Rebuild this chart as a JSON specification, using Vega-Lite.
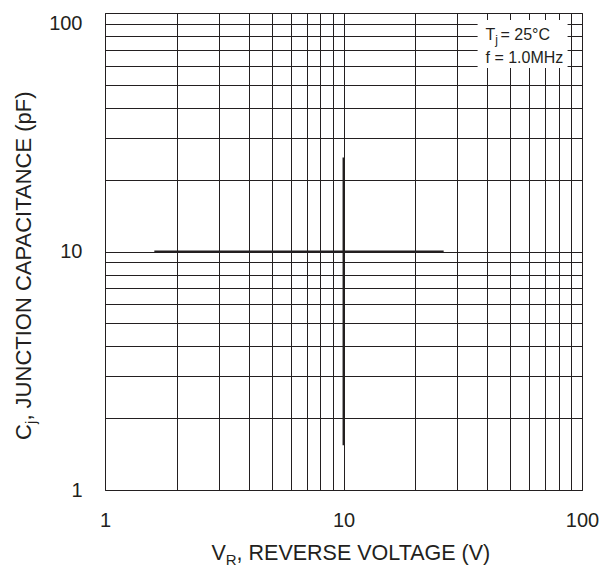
{
  "$schema": "https://vega.github.io/schema/vega-lite/v6.json",
  "width": 477,
  "height": 477,
  "autosize": {"type": "none"},
  "padding": {"left": 105, "top": 13, "right": 27, "bottom": 79},
  "background": "white",
  "config": {
    "font": "Liberation Sans",
    "view": {"stroke": "#231f20", "strokeWidth": 1},
    "text": {"font": "Liberation Sans", "color": "#231f20"}
  },
  "datasets": {
    "curves": [
      {"series": "h", "vr": 1.61, "cj": 10},
      {"series": "h", "vr": 26.3, "cj": 10},
      {"series": "v", "vr": 10, "cj": 1.54},
      {"series": "v", "vr": 10, "cj": 24.8}
    ]
  },
  "layer": [
    {
      "data": {"name": "curves"},
      "mark": {"type": "line", "color": "#231f20", "strokeWidth": 1.9},
      "encoding": {
        "x": {
          "field": "vr", "type": "quantitative",
          "scale": {"type": "log", "domain": [1, 100], "nice": false},
          "axis": {
            "values": [1, 2, 3, 4, 5, 6, 7, 8, 9, 10, 20, 30, 40, 50, 60, 70, 80, 90, 100],
            "grid": true, "gridColor": "#231f20", "gridWidth": 1, "gridOpacity": 1,
            "domain": false, "ticks": false, "title": null,
            "labelExpr": "(datum.value == 1 || datum.value == 10 || datum.value == 100) ? '' + datum.value : ''",
            "labelFontSize": 20, "labelColor": "#231f20", "labelPadding": 20,
            "labelFlush": false, "labelOverlap": false, "labelBound": false
          }
        },
        "y": {
          "field": "cj", "type": "quantitative",
          "scale": {"type": "log", "domain": [1, 100], "nice": false},
          "axis": {
            "values": [1, 2, 3, 4, 5, 6, 7, 8, 9, 10, 20, 30, 40, 50, 60, 70, 80, 90, 100],
            "grid": true, "gridColor": "#231f20", "gridWidth": 1, "gridOpacity": 1,
            "domain": false, "ticks": false, "title": null,
            "labelExpr": "(datum.value == 1 || datum.value == 10 || datum.value == 100) ? '' + datum.value : ''",
            "labelFontSize": 20, "labelColor": "#231f20", "labelPadding": 23,
            "labelBaseline": {"expr": "datum.value == 100 ? 'top' : 'middle'"},
            "labelFlush": false, "labelOverlap": false, "labelBound": false
          }
        },
        "detail": {"field": "series"}
      }
    },
    {
      "data": {"values": [{}]},
      "mark": {"type": "rect", "color": "white"},
      "encoding": {
        "x": {"datum": 36.5}, "x2": {"datum": 87},
        "y": {"datum": 58.8}, "y2": {"datum": 93.5}
      }
    },
    {
      "data": {"values": [{}]},
      "mark": {"type": "text", "text": "T", "fontSize": 16, "align": "left", "baseline": "alphabetic"},
      "encoding": {"x": {"datum": 39.4}, "y": {"datum": 77.1}}
    },
    {
      "data": {"values": [{}]},
      "mark": {"type": "text", "text": "j", "fontSize": 12, "align": "left", "baseline": "alphabetic", "dx": 9.6, "dy": 4},
      "encoding": {"x": {"datum": 39.4}, "y": {"datum": 77.1}}
    },
    {
      "data": {"values": [{}]},
      "mark": {"type": "text", "text": " = 25°C", "fontSize": 16, "align": "left", "baseline": "alphabetic", "dx": 15},
      "encoding": {"x": {"datum": 39.4}, "y": {"datum": 77.1}}
    },
    {
      "data": {"values": [{}]},
      "mark": {"type": "text", "text": "f = 1.0MHz", "fontSize": 16, "align": "left", "baseline": "alphabetic"},
      "encoding": {"x": {"datum": 39.4}, "y": {"datum": 61.5}}
    },
    {
      "data": {"values": [{}]},
      "mark": {"type": "text", "text": "V", "fontSize": 21.5, "align": "left", "baseline": "alphabetic", "dx": 106.5, "dy": 70},
      "encoding": {"x": {"datum": 1}, "y": {"datum": 1}}
    },
    {
      "data": {"values": [{}]},
      "mark": {"type": "text", "text": "R", "fontSize": 15, "align": "left", "baseline": "alphabetic", "dx": 120.8, "dy": 75},
      "encoding": {"x": {"datum": 1}, "y": {"datum": 1}}
    },
    {
      "data": {"values": [{}]},
      "mark": {"type": "text", "text": ", REVERSE VOLTAGE (V)", "fontSize": 21.5, "align": "left", "baseline": "alphabetic", "dx": 131.6, "dy": 70},
      "encoding": {"x": {"datum": 1}, "y": {"datum": 1}}
    },
    {
      "data": {"values": [{}]},
      "mark": {"type": "text", "text": "C", "fontSize": 22, "angle": 270, "align": "left", "baseline": "alphabetic", "dx": 50, "dy": -74},
      "encoding": {"x": {"datum": 1}, "y": {"datum": 1}}
    },
    {
      "data": {"values": [{}]},
      "mark": {"type": "text", "text": "j", "fontSize": 15, "angle": 270, "align": "left", "baseline": "alphabetic", "dx": 65.9, "dy": -69},
      "encoding": {"x": {"datum": 1}, "y": {"datum": 1}}
    },
    {
      "data": {"values": [{}]},
      "mark": {"type": "text", "text": ", JUNCTION CAPACITANCE (pF)", "fontSize": 22, "angle": 270, "align": "left", "baseline": "alphabetic", "dx": 69.4, "dy": -74},
      "encoding": {"x": {"datum": 1}, "y": {"datum": 1}}
    }
  ]
}
